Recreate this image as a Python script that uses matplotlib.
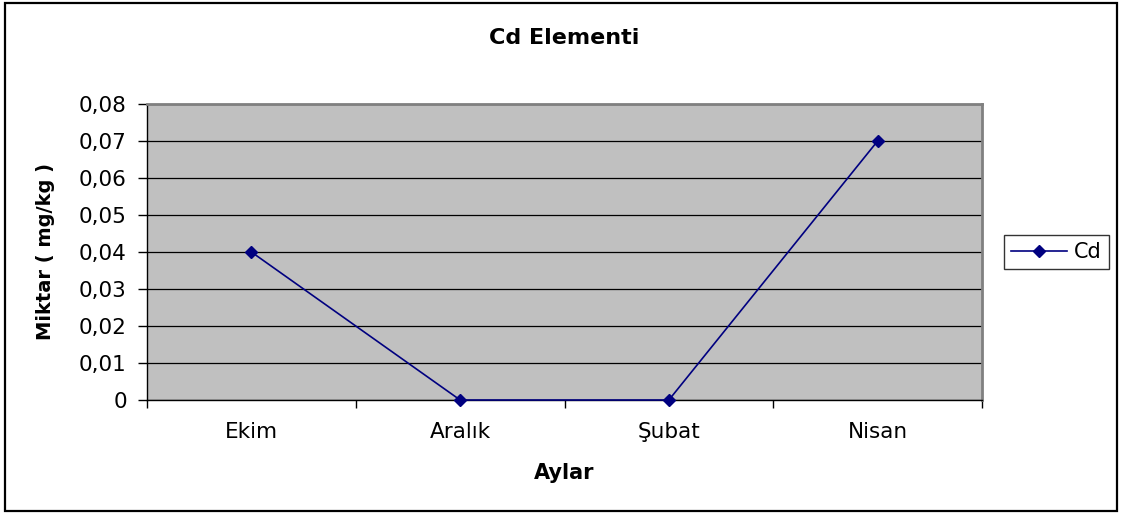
import matplotlib.pyplot as plt
from matplotlib.patches import Rectangle
from matplotlib.ticker import FuncFormatter

months = ['Ekim', 'Aralık', 'Şubat', 'Nisan']
cd_values = [0.04, 0.0, 0.0, 0.07]
y_ticks = [0, 0.01, 0.02, 0.03, 0.04, 0.05, 0.06, 0.07, 0.08]

fig = plt.figure(figsize=(11.22, 5.13), dpi=100)
fig.patch.set_facecolor('white')

# outer chart border (Excel style)
fig.patches.append(Rectangle((5 / 1122, 2 / 513), 1112 / 1122, 508 / 513,
                             transform=fig.transFigure, fill=False,
                             edgecolor='black', linewidth=1.6))

ax = fig.add_axes([147 / 1122, 1 - 400 / 513, 835 / 1122, 296 / 513])
ax.set_facecolor('#C0C0C0')

x = [i + 0.5 for i in range(len(months))]
ax.plot(x, cd_values, color='#000080', marker='D', markersize=6.5,
        linewidth=1.2, label='Cd', zorder=3, clip_on=False)

ax.set_xlim(0, len(months))
ax.set_ylim(0, 0.08)
ax.set_yticks(y_ticks)
ax.yaxis.set_major_formatter(FuncFormatter(
    lambda v, p: '0' if v == 0 else ('%.2f' % v).replace('.', ',')))
ax.grid(axis='y', color='black', linewidth=0.9)
ax.set_axisbelow(True)

ax.set_xticks(range(len(months) + 1))
ax.set_xticklabels([])
ax.set_xticks(x, minor=True)
ax.set_xticklabels(months, minor=True)
ax.tick_params(axis='x', which='minor', length=0, pad=16, labelsize=15.5)
ax.tick_params(axis='x', which='major', length=6, width=1, direction='out')
ax.tick_params(axis='y', length=6.5, width=1, direction='out', pad=8, labelsize=15.5)

for side in ['top', 'right']:
    ax.spines[side].set_color('#808080')
    ax.spines[side].set_linewidth(2)
for side in ['left', 'bottom']:
    ax.spines[side].set_color('black')
    ax.spines[side].set_linewidth(1)

ax.set_title('Cd Elementi', fontsize=16, fontweight='bold', pad=43)
ax.set_xlabel('Aylar', fontsize=15, fontweight='bold', labelpad=15)
ax.set_ylabel('Miktar ( mg/kg )', fontsize=14, fontweight='bold', labelpad=17)

leg = ax.legend(loc='center left', bbox_to_anchor=(1.026, 0.5), fontsize=15,
                frameon=True, fancybox=False, edgecolor='black',
                borderpad=0.35, handlelength=2.7, handletextpad=0.3,
                borderaxespad=0)
leg.get_frame().set_linewidth(1)

plt.savefig('out.png', dpi=100)
